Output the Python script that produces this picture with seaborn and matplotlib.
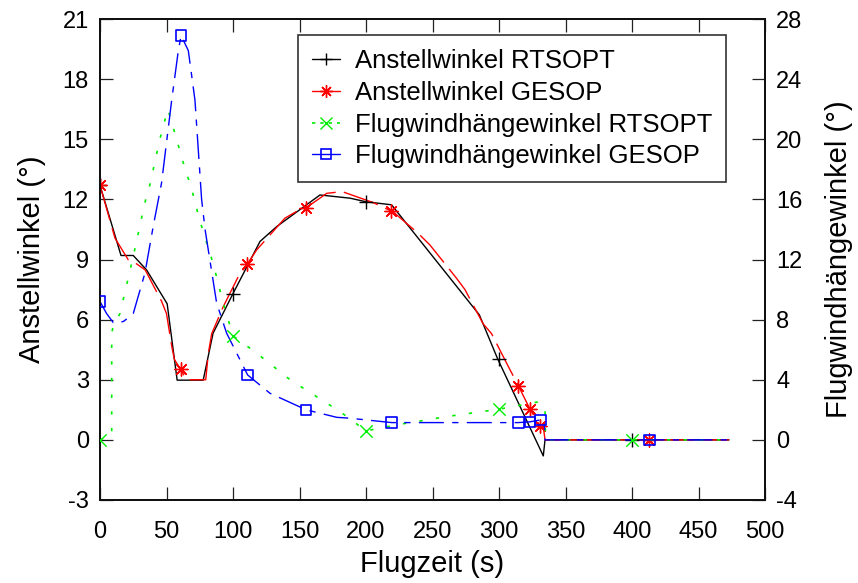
import numpy as np
import pandas as pd
import matplotlib
matplotlib.use("Agg")
import matplotlib.pyplot as plt
from matplotlib.lines import Line2D
import seaborn as sns

# ---------------- data ----------------
# Anstellwinkel RTSOPT (left axis)
t_aoa_rts = [0, 15.8, 25, 35, 50.5, 58, 77.6, 85, 100, 120.3, 132.8, 165.4, 188,
             200, 219.2, 285.2, 299, 333.3, 334.6, 473]
aoa_rts = [12.7, 9.2, 9.2, 8.48, 6.79, 2.98, 2.98, 5.32, 7.3, 9.9, 10.64, 12.22, 12.06,
           11.88, 11.73, 6.24, 4.04, -0.8, 0, 0]
t_aoa_rts_mk = [0, 100, 200, 300, 400]
aoa_rts_mk = [12.7, 7.3, 11.88, 4.04, 0]

# Anstellwinkel GESOP (left axis)
t_aoa_ges = [0, 11.3, 21.3, 25, 34, 46.4, 50, 54, 56, 60.6, 65, 79.5, 81.4, 84, 92.7,
             104, 110.8, 117.8, 139, 147.8, 154.6, 170.4, 182, 205.4, 218.5, 221.8,
             239.3, 248, 268, 274.4, 288, 294.4, 307, 314.5, 323.3, 330.8, 333.3,
             334.6, 473]
aoa_ges = [12.7, 10.06, 8.98, 8.9, 8.48, 6.9, 6.3, 4.65, 4.0, 3.53, 3.0, 3.0, 4.3, 5.3,
           6.65, 8.15, 8.77, 9.48, 11.06, 11.4, 11.56, 12.3, 12.39, 11.84, 11.43, 11.3,
           10.3, 9.73, 8.07, 7.5, 5.8, 5.3, 3.66, 2.71, 1.53, 0.71, 0.67, 0, 0]
t_aoa_ges_mk = [0, 60.6, 110.8, 154.6, 218.5, 314.5, 323.3, 330.8, 413]
aoa_ges_mk = [12.7, 3.53, 8.77, 11.56, 11.43, 2.71, 1.53, 0.71, 0]

# Flugwindhängewinkel RTSOPT (right axis)
t_mu_rts = [0, 8.8, 8.8, 10, 15, 25, 33.8, 37.6, 45, 51, 55, 65, 67.7, 75, 85, 92.7,
            100, 117.8, 142.9, 180.5, 200, 223, 260.7, 300, 330.8, 334.6, 335, 473]
mu_rts = [0, 0.3, 7.1, 7.6, 8.4, 12.2, 15.8, 17.0, 20.0, 22.0, 20.8, 17.7, 17.1, 14.6,
          11.75, 9.1, 6.92, 5.77, 4.0, 1.88, 0.6, 1.0, 1.55, 2.04, 2.55, 2.0, 0, 0]
t_mu_rts_mk = [0, 100, 200, 300, 400]
mu_rts_mk = [0, 6.92, 0.6, 2.04, 0]

# Flugwindhängewinkel GESOP (right axis)
t_mu_ges = [0, 5, 10, 13.8, 18, 25, 33.8, 40, 46.3, 53.9, 58.9, 61, 66.4, 71.4, 76.4,
            79, 87.7, 95.2, 111, 127.8, 155, 178, 188, 219.3, 314.5, 323.3, 331.3, 334,
            334.6, 473]
mu_ges = [9.2, 8.4, 7.8, 7.76, 7.9, 8.4, 11.1, 14.2, 17.1, 22.6, 25.9, 26.9, 25.9, 22.6,
          16.0, 14.0, 9.1, 7.1, 4.32, 3.1, 2.0, 1.5, 1.44, 1.15, 1.15, 1.2, 1.33, 1.3,
          0, 0]
t_mu_ges_mk = [0, 61, 111, 155, 219.3, 314.5, 323.3, 331.3, 413]
mu_ges_mk = [9.2, 26.9, 4.32, 2.0, 1.15, 1.15, 1.2, 1.33, 0]

labels = ["Anstellwinkel RTSOPT", "Anstellwinkel GESOP",
          "Flugwindhängewinkel RTSOPT", "Flugwindhängewinkel GESOP"]
x_ticks = list(range(0, 501, 50))
y1_ticks = list(range(-3, 22, 3))
y2_ticks = list(range(-4, 29, 4))

# ---------------- style ----------------
sns.set_theme(style="ticks")
plt.rcParams["font.family"] = ["Liberation Sans", "DejaVu Sans"]
plt.rcParams["axes.unicode_minus"] = False
for k in ("text.color", "axes.labelcolor", "xtick.color", "ytick.color"):
    plt.rcParams[k] = "black"

fig = plt.figure(figsize=(8.58, 5.83), dpi=100)
ax1 = fig.add_axes([100 / 858, 83 / 583, 665 / 858, 481 / 583])
ax2 = ax1.twinx()

c_blk, c_red, c_grn, c_blu = "black", "#ff0000", "#00ee00", "#0000ff"
ls_red = (0, (26, 6))
ls_grn = (0, (2, 8))
ls_blu = (0, (18, 6, 4.5, 6))

# lines
sns.lineplot(x=t_aoa_rts, y=aoa_rts, sort=False, estimator=None, ax=ax1,
             color=c_blk, lw=1.0, linestyle="-")
sns.lineplot(x=t_aoa_ges, y=aoa_ges, sort=False, estimator=None, ax=ax1,
             color=c_red, lw=1.0, linestyle=ls_red)
sns.lineplot(x=t_mu_rts, y=mu_rts, sort=False, estimator=None, ax=ax2,
             color=c_grn, lw=1.2, linestyle=ls_grn)
sns.lineplot(x=t_mu_ges, y=mu_ges, sort=False, estimator=None, ax=ax2,
             color=c_blu, lw=1.0, linestyle=ls_blu)

# markers
ast = (8, 2, 0)
sns.scatterplot(x=t_aoa_rts_mk, y=aoa_rts_mk, ax=ax1, marker="+", s=90,
                color=c_blk, linewidth=1.0, zorder=3)
sns.scatterplot(x=t_aoa_ges_mk, y=aoa_ges_mk, ax=ax1, marker=ast, s=90,
                color=c_red, linewidth=1.0, zorder=3)
sns.scatterplot(x=t_mu_rts_mk, y=mu_rts_mk, ax=ax2, marker="x", s=80,
                color=c_grn, linewidth=1.0, zorder=3)
sns.scatterplot(x=t_mu_ges_mk, y=mu_ges_mk, ax=ax2, marker="s", s=58,
                color=c_blu, facecolor="none", edgecolor=c_blu, linewidth=1.2, zorder=3)

# axes
ax1.set_xlim(0, 500)
ax1.set_ylim(-3, 21)
ax2.set_ylim(-4, 28)
ax1.set_xticks(x_ticks)
ax1.set_yticks(y1_ticks)
ax2.set_yticks(y2_ticks)

for ax in (ax1, ax2):
    for sp in ax.spines.values():
        sp.set_linewidth(1.4)
        sp.set_color("#111111")
ax1.tick_params(axis="both", direction="in", length=9.5, width=0.9, color="#222222",
                labelsize=17, pad=8, top=True, labelcolor="black")
ax1.tick_params(axis="x", pad=15)
ax2.tick_params(axis="y", direction="in", length=9.5, width=0.9, color="#222222",
                labelsize=17, pad=8, labelcolor="black")

ax1.set_xlabel("Flugzeit (s)", fontsize=21, labelpad=5, color="black")
ax1.set_ylabel("Anstellwinkel (°)", fontsize=21, labelpad=12, color="black")
ax2.set_ylabel("Flugwindhängewinkel (°)", fontsize=21, labelpad=16, color="black")

handles = [
    Line2D([], [], color=c_blk, lw=1.0, marker="+", ms=9, mew=1.0),
    Line2D([], [], color=c_red, lw=1.0, marker=ast, ms=9, mew=1.0),
    Line2D([], [], color=c_grn, lw=1.2, linestyle=(0, (2, 3)), marker="x", ms=8, mew=1.0),
    Line2D([], [], color=c_blu, lw=1.0, marker="s", ms=7, mfc="none", mew=1.2),
]
leg = ax2.legend(handles, labels, loc="upper left",
                 bbox_to_anchor=(298 / 858, 1 - 35 / 583),
                 bbox_transform=fig.transFigure, borderaxespad=0,
                 fontsize=18.5, frameon=True, fancybox=False, framealpha=1,
                 edgecolor="#333333", borderpad=0.55, labelspacing=0.3,
                 handlelength=1.1, handletextpad=0.55)
leg.get_frame().set_linewidth(1.2)
for txt in leg.get_texts():
    txt.set_color("black")

fig.savefig("out.png", dpi=100)
